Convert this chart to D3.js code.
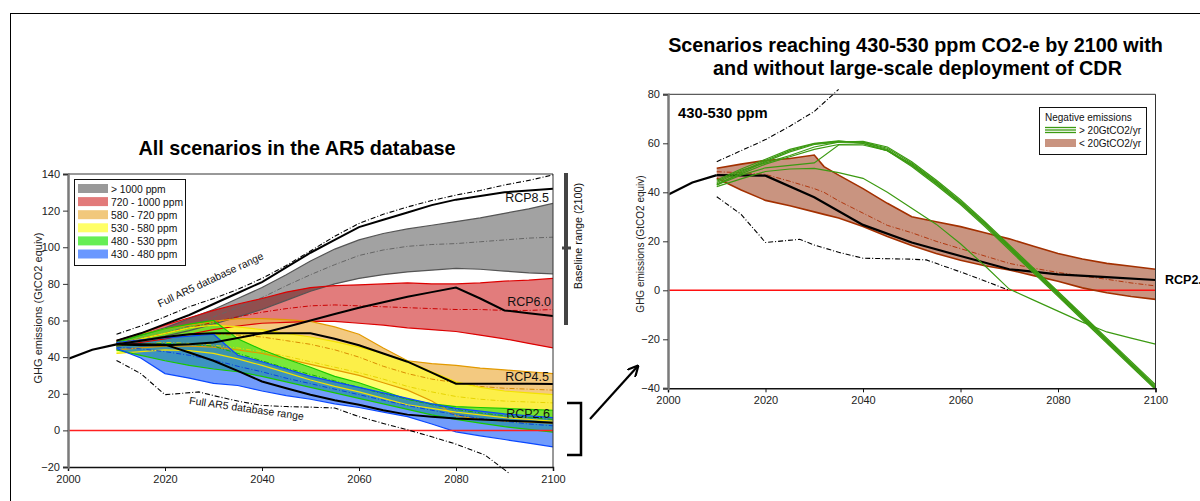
<!DOCTYPE html>
<html><head><meta charset="utf-8">
<script src="https://cdn.jsdelivr.net/npm/d3@7"></script>
<style>body{margin:0;background:#fff;} svg{display:block;font-family:"Liberation Sans",Arial,sans-serif;}</style>
</head><body><svg id="c" width="1200" height="501"></svg>
<script>
// ---------------- DATA: left chart (all AR5 scenarios) ----------------
const years5 = [2010,2015,2020,2025,2030,2035,2040,2045,2050,2055,2060,2065,2070,2075,2080,2085,2090,2095,2100];
const histYears = [2000,2005,2010];
const histValues = [39,44,47];

const grayHi  = [48.5,52,56,61,66,72,78,85,92.5,99,104,107.5,110,112,114,116,118.5,121,124];
const grayMed = [47.5,50,53,57,62,67,72.5,79,85,90.5,95.5,98.5,100.5,101.5,102,103,104,105,105.5];
const grayLo  = [47,49,51.5,54.5,58,62,66,71,76,80,83,85,86.5,87.5,88.5,88,87,86,85.5];

const redHi  = [49,53,57.5,61.5,65.5,69,72,75.5,78,79,79.5,80,80.5,80,80,80.5,81.5,82,83];
const redMed = [47.5,50,53,56,59,62,64.5,66.5,68,68.5,68,67.5,67,66.5,66,66,65.5,65.5,66];
const redLo  = [46,48,50,52.5,55,57,58.5,59,59.5,59.5,58.5,57.5,56,55,54,52,50,47.5,45];

const orangeHi  = [49,52.5,55.5,57.5,59.5,61,61,60.5,59.5,56.5,52.5,45,38,36.5,35.5,34,33,32,31];
const orangeMed = [47,49,51,52,52.5,52,51,49,47,44,40,35,31,28,26,24,23,22.5,22];
const orangeLo  = [44,45,46,46,45.5,44,42,39,36,33,30,26,22,16,8,6,5,4.5,4];

const yellowHi  = [47,50,53,56,57.5,56.5,55,53,51,48.5,45.5,42,38,32,26.5,23.5,21.5,20.5,19.5];
const yellowMed = [46,47,48,47.5,46.5,45,43,40.5,37.5,34.5,31.5,28,24,21,18.5,17,16,15.5,15];
const yellowLo  = [42,43,44,43.5,42,39,35.5,31.5,27.5,24,21,17.5,14,12,10,8.5,7,6,5];

const greenHi  = [48,52,55.5,58,60,50,44,39,34.5,29.5,26,21.5,17,14.5,13,12.5,12,11.5,11];
const greenMed = [46,47,47.5,47,46,42,38,34,30.5,27,23.5,20,17,14,11.5,9.5,8,7,6];
const greenLo  = [44,41,38,35.5,33.5,32,29.5,26.5,23.5,20.5,17.5,14.5,11.5,8.5,6,4,2,0.5,-1];

const blueHi  = [48,49.5,50.5,51.5,52.5,41,37.5,33.5,29.5,26.5,23.5,20.5,17.5,14.5,12,10.5,9,8,7];
const blueMed = [45.5,44.5,43,41,38.5,35,32,28.5,25.5,22.5,19.5,16.5,13.5,11,8.5,6.5,5,3.5,2.5];
const blueLo  = [44.8,39.5,31,28.5,25.7,24.5,21.5,19,17,14.5,12.5,10,7.5,3.5,-0.8,-3,-5,-7,-9];

const rcp85 = [49,53,58,63,69,75,81,89,97,104,111,115,119,123,126,128,130,131,132];
const rcp60 = [47,46.5,46.5,47,48,50.5,53,56.5,60,63.5,67,70,73,75.5,78,72,65.5,64,62.5];
const rcp45 = [47,49,51,52.5,53,53,53,53,53,50,46.5,42,37.5,31.5,25.5,25.5,25.5,25.5,25.3];
const rcp26 = [47,47,46.8,42.5,38,32.5,26.7,23,19.5,16.5,14,11,8.6,7.5,6.5,6,5.4,4.8,4.2];

const fullHiYears = years5;
const fullHi = [52.5,57,62,67.5,72,77,83,90,98,106,113,118,122,125.5,128.5,131,134,136.5,139.5];
const fullLoYears = [2010,2015,2020,2027,2030,2035,2040,2045,2050,2055,2060,2065,2070,2075,2080,2086,2091];
const fullLo = [38.2,31,19.5,21,19,16,13.6,13,12.7,12.2,7.5,3.8,0.3,-3.5,-7.5,-13.5,-23.5];

const legendLabels = ["> 1000 ppm","720 - 1000 ppm","580 - 720 ppm","530 - 580 ppm","480 - 530 ppm","430 - 480 ppm"];
const xTicksL = [2000,2020,2040,2060,2080,2100];
const yTicksL = [-20,0,20,40,60,80,100,120,140];

// ---------------- DATA: right chart (430-530 ppm) ----------------
const brownYears = [2010,2015,2020,2025,2030,2032,2035,2040,2045,2050,2055,2060,2065,2070,2075,2080,2085,2090,2095,2100];
const brownHi  = [49.8,51.5,53,53.8,55.2,50.5,47,41.5,35.5,30,28,26,23.5,21,18,15,12.8,11,9.8,8.6];
const brownMed = [48.4,48,47.3,44.5,41.5,40,36.5,31.5,26.5,23.5,20,17,14,11,9,7.3,5.8,4.5,3,1.8];
const brownLo  = [45.7,40.9,36.7,34.5,32,31,29.5,26,22,18.3,15,12.3,10,8.3,6,3.7,1,-1,-2.5,-3.7];

const rcp26RYears = [2010,2020,2030,2040,2050,2060,2070,2080,2090,2100];
const rcp26R = [47,46.8,38,26.7,19.5,14,8.6,6.5,5.4,4.2];

const fullHiRYears = [2010,2015,2020,2025,2030,2035];
const fullHiR = [52.5,57,61.5,67,73,82];
const fullLoRYears = [2010,2015,2020,2027,2030,2035,2040,2045,2050,2053,2060,2065,2070];
const fullLoR = [38.2,31,19.5,20.8,18.5,15.5,13.1,12.9,12.7,12.4,7.5,3.8,0];

const cdr1 = [44,48.5,53,57,59.8,60.8,60.5,57.5,51,43.5,35.5,26.5,17,7.5,-2,-11.5,-21,-30.5,-40];
const cdr2 = [43,48,52.5,56.5,59.5,60.5,60.5,58,52,44.5,36.5,27.5,18,8.5,-1,-10.5,-20,-29.5,-39];
const cdr3 = [45,49.5,53.5,57.5,60,61,60,57,50.5,43,35,26,16.5,7,-2.5,-12,-21.5,-31,-40.5];
const cdr4 = [44.5,49,52,55,58.5,60.5,60.8,58.5,52.5,45,37,28,18.5,9,-0.5,-10,-19.5,-29,-38.5];
const cdr5 = [43.5,47.5,51.5,54.5,57.5,59.5,59.8,57,51,44,36,27,17.5,8,-1.5,-11,-20.5,-30,-39.5];
const cdr6 = [43,47,50,51,52,59.3,59.3,57,51.5,44,36,27,17.5,8,-1.5,-11,-20.5,-30,-40];
const cdr7 = [42.3,45.5,48.5,49.5,49.8,48,45.7,40,33.5,27,19,10,0.5,-4,-8.5,-13,-17,-19.5,-22];

const xTicksR = [2000,2020,2040,2060,2080,2100];
const yTicksR = [-40,-20,0,20,40,60,80];

// ---------------- DRAWING ----------------
const svg = d3.select("#c");
const FONT = '"Liberation Sans",Arial,sans-serif';
svg.append("rect").attr("x",10.5).attr("y",13.5).attr("width",1200).attr("height",500)
  .attr("fill","none").attr("stroke","#000").attr("stroke-width",1);

const zip = (xs, ys) => xs.map((x,i)=>({x, y:ys[i]}));
const zip3 = (xs, lo, hi) => xs.map((x,i)=>({x, lo:lo[i], hi:hi[i]}));

function drawFrame(g, x, y, xTicks, yTicks) {
  const [x0,x1] = x.range(); const [y0,y1] = y.range();
  g.append("path").attr("d",`M${x0},${y1}H${x1}V${y0}`).attr("fill","none").attr("stroke","#333").attr("stroke-width",1);
  const ax = g.append("g").attr("transform",`translate(0,${y0})`)
    .call(d3.axisBottom(x).tickValues(xTicks).tickFormat(d3.format("d")).tickSizeOuter(0).tickSize(4).tickPadding(4));
  ax.select(".domain").attr("stroke","#111").attr("stroke-width",1.5);
  ax.selectAll("line").attr("stroke","#111");
  ax.selectAll("text").attr("font-size",11).attr("fill","#222").attr("font-family",FONT);
  const ay = g.append("g").attr("transform",`translate(${x0},0)`)
    .call(d3.axisLeft(y).tickValues(yTicks).tickSizeOuter(0).tickSize(5).tickPadding(3));
  ay.select(".domain").attr("stroke","#7a7a7a").attr("stroke-width",2.5);
  ay.selectAll("line").attr("stroke","#333");
  ay.selectAll("text").attr("font-size",11).attr("fill","#222").attr("font-family",FONT);
}

// ===== LEFT =====
const xL = d3.scaleLinear().domain([2000,2100]).range([68,553]);
const yL = d3.scaleLinear().domain([-20,140]).range([467,174]);
const gL = svg.append("g");
svg.append("clipPath").attr("id","clipL").append("rect").attr("x",68).attr("y",174).attr("width",485).attr("height",293);
const pL = gL.append("g").attr("clip-path","url(#clipL)").style("isolation","isolate");

const areaL = d3.area().x(d=>xL(d.x)).y0(d=>yL(d.lo)).y1(d=>yL(d.hi));
const lineL = d3.line().x(d=>xL(d.x)).y(d=>yL(d.y));

const bands = [
  {hi:grayHi, med:grayMed, lo:grayLo, fill:"#a2a2a2", op:1, blend:"normal", stroke:"#555", medc:"#666"},
  {hi:redHi, med:redMed, lo:redLo, fill:"#e27c7c", op:1, blend:"multiply", stroke:"#dd0000", medc:"#cc0000"},
  {hi:orangeHi, med:orangeMed, lo:orangeLo, fill:"#eeb24a", op:0.7, blend:"normal", stroke:"#e39a00", medc:"#d98c00"},
  {hi:yellowHi, med:yellowMed, lo:yellowLo, fill:"#ffff30", op:0.7, blend:"normal", stroke:"#f3e300", medc:"#e6d400"},
  {hi:greenHi, med:greenMed, lo:greenLo, fill:"#2fdc20", op:0.65, blend:"normal", stroke:"#19c800", medc:"#14b000"},
  {hi:blueHi, med:blueMed, lo:blueLo, fill:"#145af8", op:0.6, blend:"normal", stroke:"#0a48ff", medc:"#0a40e0"}
];
bands.forEach(b=>{
  pL.append("path").datum(zip3(years5,b.lo,b.hi)).attr("d",areaL)
    .attr("fill",b.fill).attr("fill-opacity",b.op).style("mix-blend-mode",b.blend).attr("stroke","none");
});
bands.forEach(b=>{
  [b.hi,b.lo].forEach(arr=>pL.append("path").datum(zip(years5,arr)).attr("d",lineL)
    .attr("fill","none").attr("stroke",b.stroke).attr("stroke-width",1.2));
  pL.append("path").datum(zip(years5,b.med)).attr("d",lineL)
    .attr("fill","none").attr("stroke",b.medc).attr("stroke-width",1).attr("stroke-dasharray","5,2,1,2");
});
pL.append("line").attr("x1",68).attr("x2",553).attr("y1",yL(0)).attr("y2",yL(0)).attr("stroke","#ff2020").attr("stroke-width",1.5);
[rcp85,rcp60,rcp45,rcp26].forEach(arr=>pL.append("path").datum(zip(years5,arr)).attr("d",lineL)
  .attr("fill","none").attr("stroke","#000").attr("stroke-width",2));
pL.append("path").datum(zip(histYears,histValues)).attr("d",lineL).attr("fill","none").attr("stroke","#000").attr("stroke-width",2.2);
gL.append("path").datum(zip(fullHiYears,fullHi)).attr("d",lineL).attr("fill","none").attr("stroke","#000").attr("stroke-width",1.1).attr("stroke-dasharray","5,2,1,2");
gL.append("path").datum(zip(fullLoYears,fullLo)).attr("d",lineL).attr("fill","none").attr("stroke","#000").attr("stroke-width",1.1).attr("stroke-dasharray","5,2,1,2");

drawFrame(gL, xL, yL, xTicksL, yTicksL);

gL.append("text").attr("x",297).attr("y",155).attr("text-anchor","middle").attr("font-size",19.8).attr("font-weight","bold").text("All scenarios in the AR5 database");
gL.append("text").attr("transform","translate(42,308) rotate(-90)").attr("text-anchor","middle").attr("font-size",11).attr("fill","#222").text("GHG emissions (GtCO2 equiv)");

[["RCP8.5",549,202],["RCP6.0",551,306],["RCP4.5",549,381],["RCP2.6",550,418]].forEach(t=>
  gL.append("text").attr("x",t[1]).attr("y",t[2]).attr("text-anchor","end").attr("font-size",12.5).attr("fill","#111").text(t[0]));
gL.append("text").attr("transform","translate(212,283) rotate(-25)").attr("text-anchor","middle").attr("font-size",10.5).attr("fill","#111").text("Full AR5 database range");
gL.append("text").attr("transform","translate(246,412) rotate(8)").attr("text-anchor","middle").attr("font-size",10.5).attr("fill","#111").text("Full AR5 database range");

const lg = gL.append("g");
lg.append("rect").attr("x",74.5).attr("y",179.5).attr("width",111).attr("height",86).attr("fill","#fff").attr("stroke","#111").attr("stroke-width",1);
const legFills = ["#999999","#e27a7a","#f1c87c","#ffff66","#66ee55","#6a98ff"];
legendLabels.forEach((l,i)=>{
  const yy = 184 + i*13.1;
  lg.append("rect").attr("x",78).attr("y",yy).attr("width",30).attr("height",9).attr("fill",legFills[i]);
  lg.append("text").attr("x",111).attr("y",yy+8.5).attr("font-size",10.3).attr("fill","#111").text(l);
});

gL.append("line").attr("x1",566).attr("x2",566).attr("y1",173).attr("y2",325).attr("stroke","#444").attr("stroke-width",4);
gL.append("line").attr("x1",562).attr("x2",571).attr("y1",248).attr("y2",248).attr("stroke","#444").attr("stroke-width",3);
gL.append("text").attr("transform","translate(582,236) rotate(-90)").attr("text-anchor","middle").attr("font-size",10.8).attr("fill","#111").text("Baseline range (2100)");
gL.append("path").attr("d","M567,403H581V455H567").attr("fill","none").attr("stroke","#000").attr("stroke-width",2.5);
svg.append("defs").append("marker").attr("id","ah").attr("viewBox","0 0 10 10").attr("refX",8).attr("refY",5)
  .attr("markerWidth",5).attr("markerHeight",5).attr("orient","auto")
  .append("path").attr("d","M0,0L10,5L0,10").attr("fill","none").attr("stroke","#000").attr("stroke-width",2);
svg.append("line").attr("x1",590).attr("y1",419).attr("x2",637).attr("y2",367).attr("stroke","#000").attr("stroke-width",2.2).attr("marker-end","url(#ah)");

// ===== RIGHT =====
const xR = d3.scaleLinear().domain([2000,2100]).range([668,1155.5]);
const yR = d3.scaleLinear().domain([-40,80]).range([388.3,94.3]);
const gR = svg.append("g");
svg.append("clipPath").attr("id","clipR").append("rect").attr("x",668).attr("y",94.3).attr("width",487.5).attr("height",294);
const pR = gR.append("g").attr("clip-path","url(#clipR)");
const areaR = d3.area().x(d=>xR(d.x)).y0(d=>yR(d.lo)).y1(d=>yR(d.hi));
const lineR = d3.line().x(d=>xR(d.x)).y(d=>yR(d.y));

pR.append("path").datum(zip3(brownYears,brownLo,brownHi)).attr("d",areaR).attr("fill","#c99480").attr("stroke","none");
pR.append("line").attr("x1",668).attr("x2",1155.5).attr("y1",yR(0)).attr("y2",yR(0)).attr("stroke","#ff1010").attr("stroke-width",1.5);
[brownHi,brownLo].forEach(a=>pR.append("path").datum(zip(brownYears,a)).attr("d",lineR).attr("fill","none").attr("stroke","#a33000").attr("stroke-width",1.6));
pR.append("path").datum(zip(brownYears,brownMed)).attr("d",lineR).attr("fill","none").attr("stroke","#b0380f").attr("stroke-width",1).attr("stroke-dasharray","5,2,1,2");
pR.append("path").datum(zip(rcp26RYears,rcp26R)).attr("d",lineR).attr("fill","none").attr("stroke","#000").attr("stroke-width",2.2);
pR.append("path").datum(zip(histYears,histValues)).attr("d",lineR).attr("fill","none").attr("stroke","#000").attr("stroke-width",2.2);
[cdr1,cdr2,cdr3,cdr4,cdr5,cdr6,cdr7].forEach(a=>pR.append("path").datum(zip(years5,a)).attr("d",lineR)
  .attr("fill","none").attr("stroke","#3c9a12").attr("stroke-width",1.2));
gR.append("path").datum(zip(fullHiRYears,fullHiR)).attr("d",lineR).attr("fill","none").attr("stroke","#000").attr("stroke-width",1.1).attr("stroke-dasharray","5,2,1,2");
gR.append("path").datum(zip(fullLoRYears,fullLoR)).attr("d",lineR).attr("fill","none").attr("stroke","#000").attr("stroke-width",1.1).attr("stroke-dasharray","5,2,1,2");

drawFrame(gR, xR, yR, xTicksR, yTicksR);

gR.append("text").attr("x",915.5).attr("y",52).attr("text-anchor","middle").attr("font-size",19.8).attr("font-weight","bold").text("Scenarios reaching 430-530 ppm CO2-e by 2100 with");
gR.append("text").attr("x",917.5).attr("y",75).attr("text-anchor","middle").attr("font-size",19.8).attr("font-weight","bold").text("and without large-scale deployment of CDR");
gR.append("text").attr("x",678).attr("y",118).attr("font-size",14.8).attr("font-weight","bold").text("430-530 ppm");
gR.append("text").attr("transform","translate(644,244) rotate(-90)").attr("text-anchor","middle").attr("font-size",10).attr("fill","#222").text("GHG emissions (GtCO2 equiv)");
gR.append("text").attr("x",1165).attr("y",284).attr("font-size",12.5).attr("font-weight","bold").text("RCP2.6");

const lr = gR.append("g");
lr.append("rect").attr("x",1039.5).attr("y",107.5).attr("width",107).attr("height",47).attr("fill","#fff").attr("stroke","#111");
lr.append("text").attr("x",1045).attr("y",121).attr("font-size",10).attr("fill","#111").text("Negative emissions");
[127.5,130,132.5].forEach(yy=>lr.append("line").attr("x1",1045).attr("x2",1076).attr("y1",yy).attr("y2",yy).attr("stroke","#3c9a12").attr("stroke-width",1.3));
lr.append("text").attr("x",1079).attr("y",134).attr("font-size",10).attr("fill","#111").text("> 20GtCO2/yr");
lr.append("rect").attr("x",1045).attr("y",139).attr("width",31).attr("height",8).attr("fill","#c99480");
lr.append("text").attr("x",1079).attr("y",147).attr("font-size",10).attr("fill","#111").text("< 20GtCO2/yr");
</script></body></html>
